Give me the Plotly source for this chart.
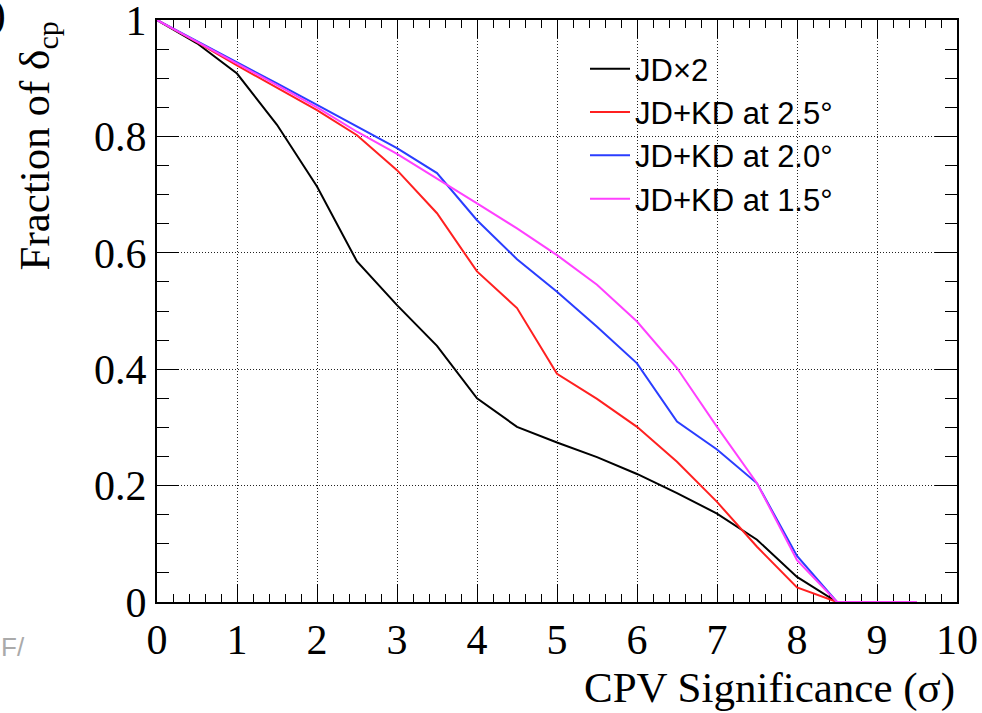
import plotly.graph_objects as go

x = [0, 0.5, 1, 1.5, 2, 2.5, 3, 3.5, 4, 4.5, 5, 5.5, 6, 6.5, 7, 7.5, 8, 8.5, 9, 9.5]

jd_x2 = [1.0, 0.96, 0.908, 0.82, 0.714, 0.585, 0.51, 0.44, 0.35, 0.301, 0.274, 0.249, 0.22, 0.187, 0.152, 0.107, 0.043, 0.0, 0.0, 0.0]
kd_25 = [1.0, 0.962, 0.922, 0.884, 0.845, 0.802, 0.742, 0.668, 0.568, 0.505, 0.392, 0.349, 0.301, 0.241, 0.172, 0.095, 0.025, 0.0, 0.0, 0.0]
kd_20 = [1.0, 0.964, 0.927, 0.891, 0.854, 0.817, 0.78, 0.737, 0.656, 0.589, 0.533, 0.473, 0.41, 0.31, 0.262, 0.204, 0.079, 0.0, 0.0, 0.0]
kd_15 = [1.0, 0.963, 0.925, 0.888, 0.85, 0.808, 0.77, 0.728, 0.685, 0.642, 0.596, 0.545, 0.482, 0.402, 0.301, 0.204, 0.072, 0.0, 0.0, 0.0]

names = ["JD×2", "JD+KD at 2.5°", "JD+KD at 2.0°", "JD+KD at 1.5°"]
series = [jd_x2, kd_25, kd_20, kd_15]
colors = ["#000000", "#ff2020", "#2a3dff", "#ff40ff"]

x_tickvals = list(range(0, 11))
x_ticktext = [str(v) for v in x_tickvals]
y_tickvals = [0, 0.2, 0.4, 0.6, 0.8, 1.0]
y_ticktext = ["0", "0.2", "0.4", "0.6", "0.8", "1"]

fig = go.Figure()
for n, s, c in zip(names, series, colors):
    fig.add_trace(go.Scatter(x=x, y=s, mode="lines", name=n, cliponaxis=False,
                             line=dict(color=c, width=2)))

serif = "Liberation Serif, Times New Roman, serif"
sans = "Liberation Sans, Arial, sans-serif"

fig.update_layout(
    width=982, height=713,
    margin=dict(l=157, r=25, t=20, b=111, autoexpand=False),
    paper_bgcolor="white", plot_bgcolor="white",
    showlegend=True,
    legend=dict(x=0.535, y=0.962, xanchor="left", yanchor="top",
                bgcolor="rgba(0,0,0,0)", borderwidth=0,
                font=dict(family=sans, size=31, color="black"),
                tracegroupgap=0, itemwidth=40),
    xaxis=dict(range=[0, 10], tickvals=x_tickvals, ticktext=x_ticktext,
               automargin=False, ticklabeloverflow="allow", layer="below traces",
               ticks="inside", ticklen=18, tickwidth=1, tickcolor="black",
               showline=True, linecolor="black", linewidth=2, mirror="allticks",
               showgrid=True, gridcolor="#222222", griddash="1px,2px", gridwidth=1,
               zeroline=False,
               tickfont=dict(family=serif, size=42, color="black"),
               minor=dict(dtick=0.2, ticks="inside", ticklen=8, tickwidth=1,
                          tickcolor="black", showgrid=False)),
    yaxis=dict(range=[0, 1], tickvals=y_tickvals, ticktext=y_ticktext,
               automargin=False, ticklabeloverflow="allow", layer="below traces",
               ticks="inside", ticklen=22, tickwidth=1, tickcolor="black",
               showline=True, linecolor="black", linewidth=2, mirror="allticks",
               showgrid=True, gridcolor="#222222", griddash="1px,2px", gridwidth=1,
               zeroline=False, ticklabelstandoff=0,
               tickfont=dict(family=serif, size=42, color="black"),
               minor=dict(dtick=0.05, ticks="inside", ticklen=12, tickwidth=1,
                          tickcolor="black", showgrid=False)),
)

fig.add_annotation(xref="paper", yref="paper", x=1.0, y=-0.148,
                   xanchor="right", yanchor="middle", showarrow=False,
                   text="CPV Significance (σ)",
                   font=dict(family=serif, size=43, color="black"))
fig.add_annotation(xref="paper", yref="paper", x=-0.15, y=1.0,
                   xanchor="center", yanchor="top", showarrow=False, textangle=-90,
                   text="Fraction of δ<sub>cp</sub>",
                   font=dict(family=serif, size=43, color="black"))
fig.add_annotation(xref="paper", yref="paper", x=-0.186, y=1.01,
                   xanchor="right", yanchor="middle", showarrow=False,
                   text="0)", font=dict(family=serif, size=43, color="black"))
fig.add_annotation(xref="paper", yref="paper", x=-0.198, y=-0.077,
                   xanchor="left", yanchor="middle", showarrow=False,
                   text="F/", font=dict(family=sans, size=26, color="#aaaaaa"))

fig.write_html("out.html", config={"displayModeBar": False},
               post_script="document.body.style.margin='0px';document.body.style.overflow='hidden';")
